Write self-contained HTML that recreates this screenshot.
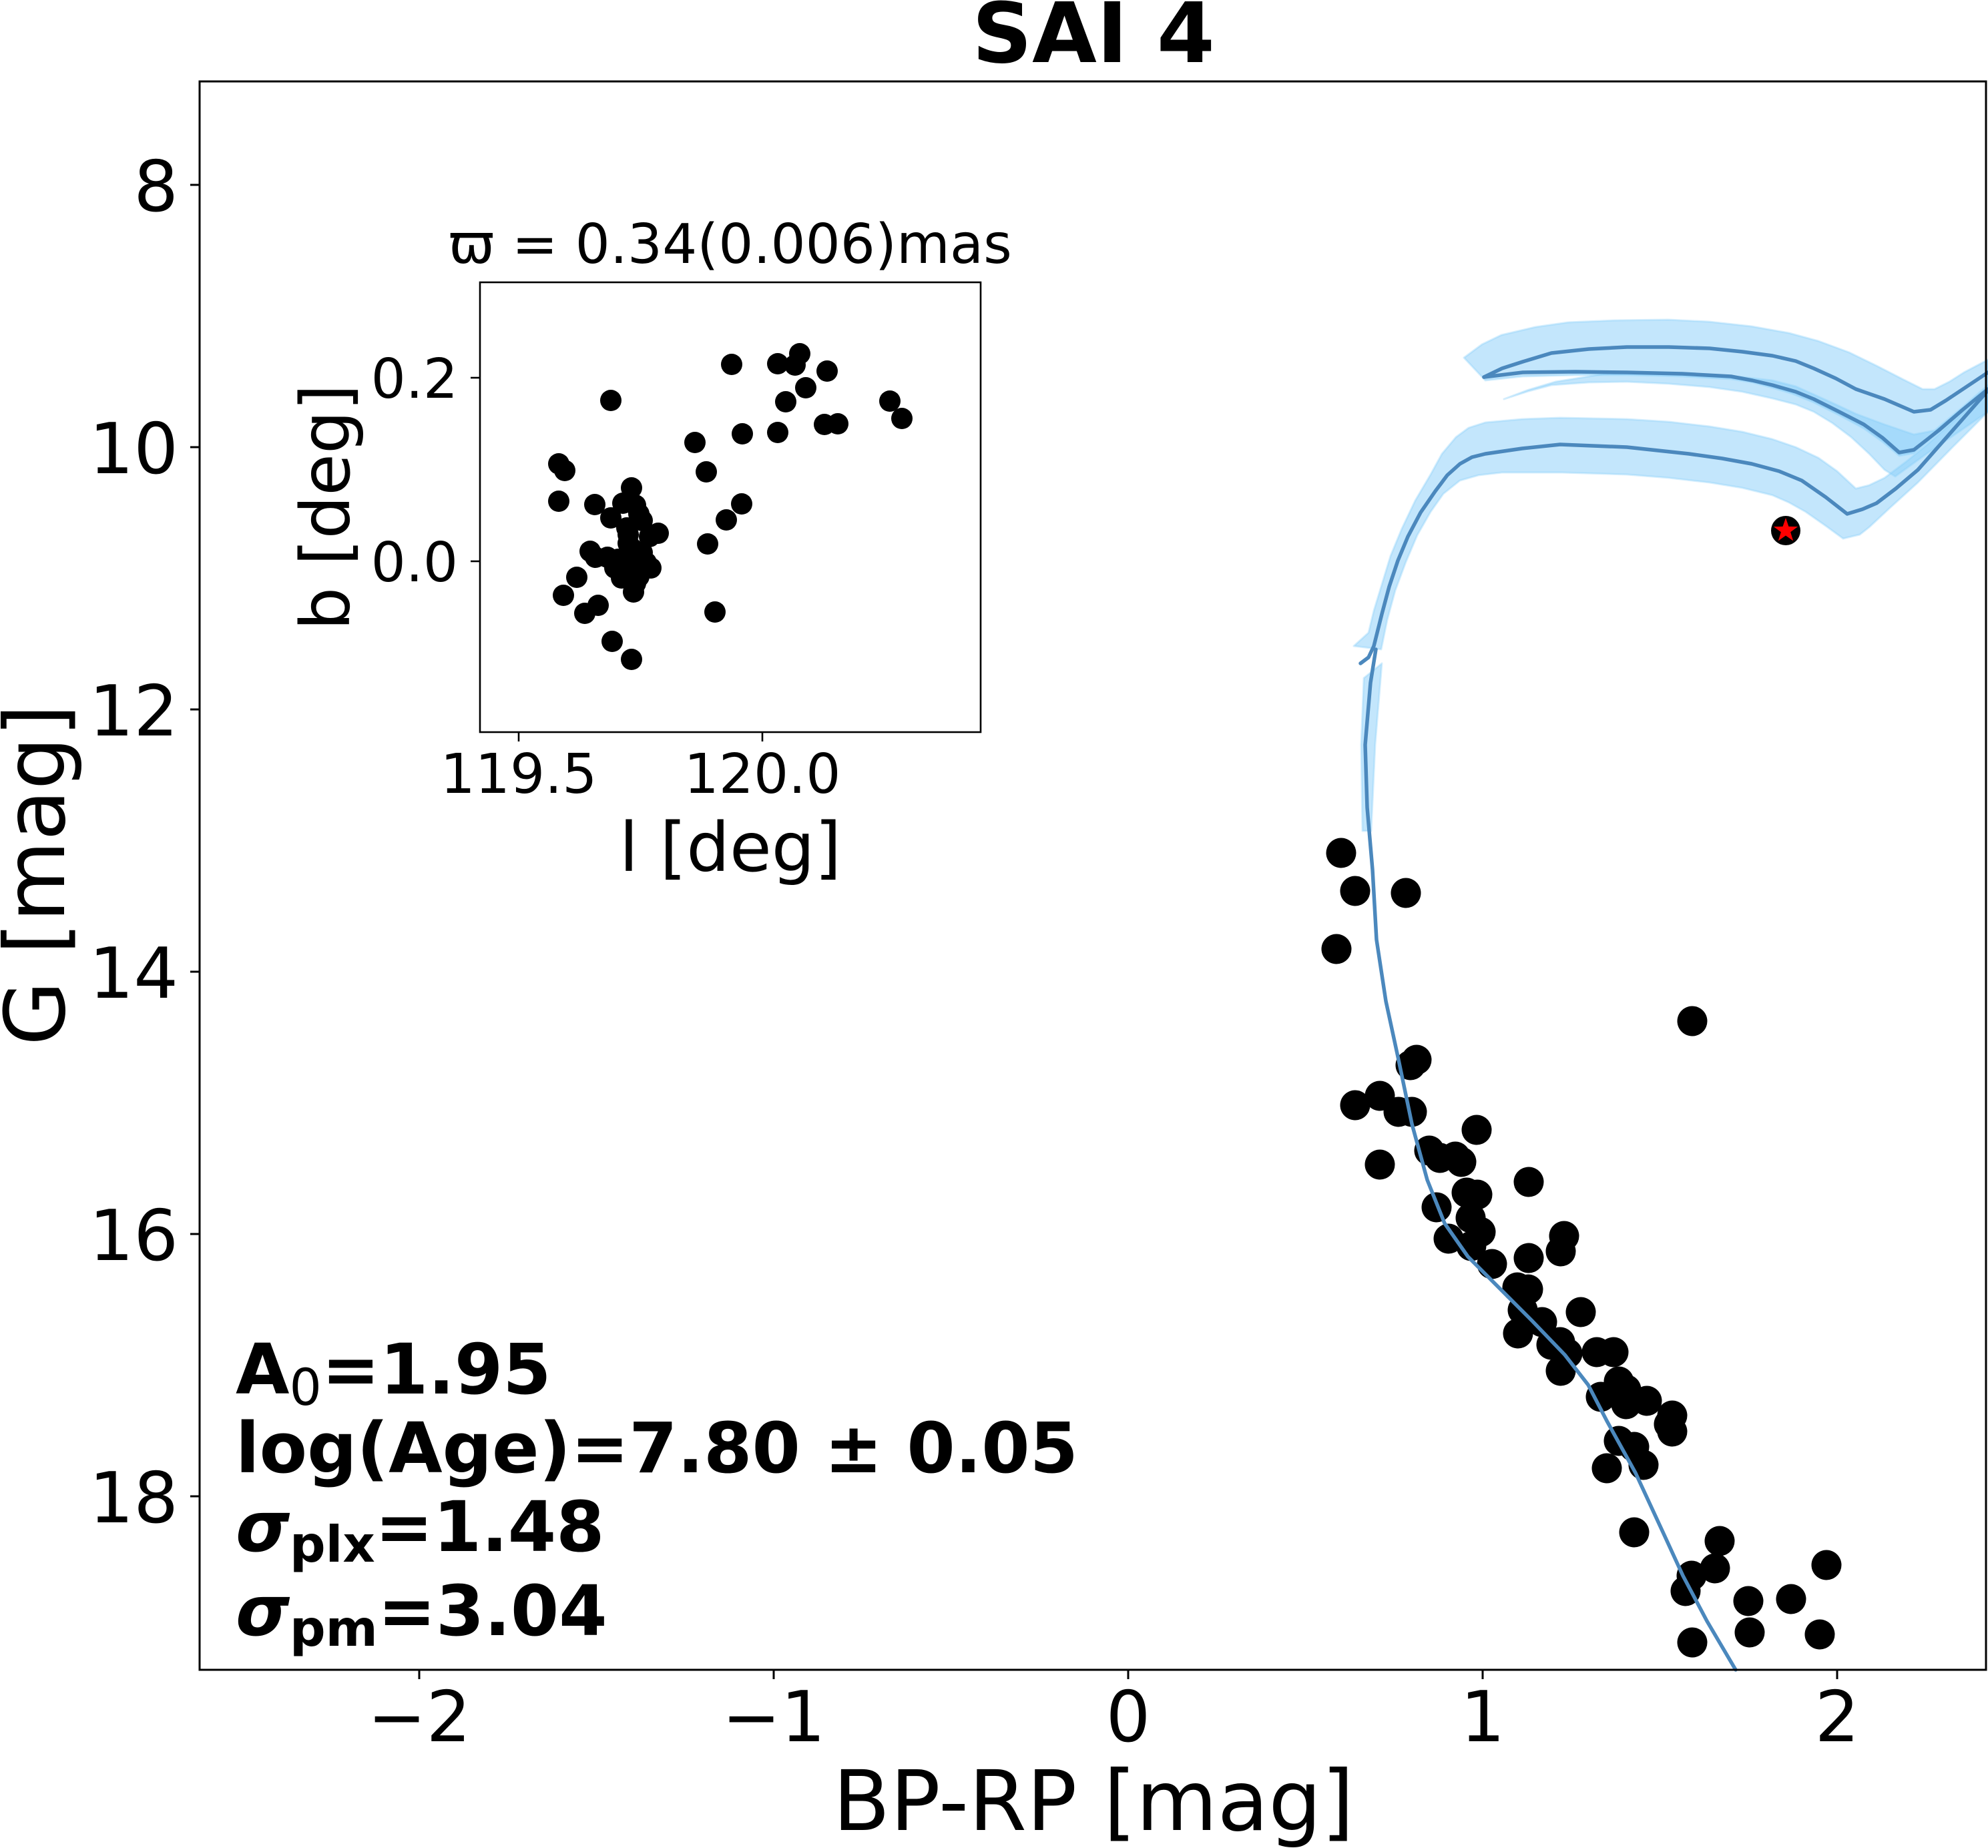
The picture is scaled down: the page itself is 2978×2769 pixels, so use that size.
<!DOCTYPE html>
<html>
<head>
<meta charset="utf-8">
<style>
html,body{margin:0;padding:0;background:#fff;}
svg{display:block;}
text{font-family:"DejaVu Sans","Liberation Sans",sans-serif;fill:#000;}
</style>
</head>
<body>
<svg width="2978" height="2769" viewBox="0 0 2978 2769" xmlns="http://www.w3.org/2000/svg">
<rect x="0" y="0" width="2978" height="2769" fill="#fff"/>

<!-- Title -->
<text x="1638" y="93" font-size="125" font-weight="bold" text-anchor="middle">SAI 4</text>

<!-- bands -->
<g fill="#87cefa" fill-opacity="0.5" stroke="#87cefa" stroke-opacity="0.35" stroke-width="3" stroke-linejoin="round">
  <!-- band A -->
  <polygon points="2193,536 2220,516 2249,502 2300,490 2349,483 2420,480 2499,479 2560,482 2624,489 2680,499 2724,511 2770,528 2811,548 2850,568 2880,583 2898,583 2920,572 2942,558 2978,539 2978,586 2940,617 2904,648 2867,679 2845,683 2820,662 2792,642 2755,622 2717,603 2685,590 2655,581 2625,573 2593,568 2520,564 2437,562 2360,562 2281,564 2225,570"/>
  <!-- band B -->
  <polygon points="2253,598 2290,584 2330,572 2405,560 2490,560 2561,562 2610,565 2655,570 2690,579 2717,591 2750,606 2780,620 2823,636 2867,651 2898,645 2940,610 2978,577 2978,617 2930,650 2886,680 2839,714 2823,704 2800,680 2773,655 2745,634 2717,617 2690,606 2655,597 2610,587 2561,580 2500,575 2437,572 2380,573 2324,577 2290,586"/>
  <!-- band around lower isochrone -->
  <polygon points="2028,968 2050,948 2058,915 2069,879 2083,833 2100,792 2120,750 2143,711 2160,680 2181,655 2200,641 2225,633 2280,628 2337,626 2437,628 2500,632 2561,639 2610,647 2655,658 2690,670 2724,686 2752,706 2780,732 2800,727 2823,716 2855,692 2886,667 2930,628 2978,586 2978,617 2925,670 2873,723 2830,762 2800,790 2786,801 2761,807 2735,788 2705,767 2680,753 2655,742 2610,731 2561,723 2500,716 2437,711 2340,708 2250,708 2215,712 2187,720 2162,740 2143,767 2123,802 2106,842 2090,885 2078,929 2069,973"/>
  <!-- thin band along MS -->
  <polygon points="2043,1016 2070,994 2060,1116 2054,1245 2041,1245 2039,1116"/>
</g>

<!-- main scatter points -->
<g fill="#000">
<circle cx="2009" cy="1278" r="22.5"/><circle cx="2030" cy="1335" r="22.5"/><circle cx="2106" cy="1338" r="22.5"/><circle cx="2002" cy="1422" r="22.5"/>
<circle cx="2535" cy="1530" r="22.5"/><circle cx="2122" cy="1588" r="22.5"/><circle cx="2113" cy="1596" r="22.5"/><circle cx="2067" cy="1642" r="22.5"/>
<circle cx="2030" cy="1656" r="22.5"/><circle cx="2095" cy="1666" r="22.5"/><circle cx="2115" cy="1666" r="22.5"/><circle cx="2212" cy="1693" r="22.5"/>
<circle cx="2141" cy="1724" r="22.5"/><circle cx="2157" cy="1735" r="22.5"/><circle cx="2180" cy="1733" r="22.5"/><circle cx="2189" cy="1741" r="22.5"/>
<circle cx="2067" cy="1745" r="22.5"/><circle cx="2290" cy="1771" r="22.5"/><circle cx="2197" cy="1787" r="22.5"/><circle cx="2213" cy="1790" r="22.5"/>
<circle cx="2152" cy="1809" r="22.5"/><circle cx="2203" cy="1825" r="22.5"/><circle cx="2218" cy="1846" r="22.5"/><circle cx="2170" cy="1856" r="22.5"/>
<circle cx="2204" cy="1867" r="22.5"/><circle cx="2235" cy="1894" r="22.5"/><circle cx="2290" cy="1885" r="22.5"/><circle cx="2343" cy="1852" r="22.5"/>
<circle cx="2338" cy="1875" r="22.5"/><circle cx="2273" cy="1929" r="22.5"/><circle cx="2289" cy="1932" r="22.5"/><circle cx="2281" cy="1963" r="22.5"/>
<circle cx="2310" cy="1981" r="22.5"/><circle cx="2274" cy="1998" r="22.5"/><circle cx="2324" cy="2015" r="22.5"/><circle cx="2337" cy="2011" r="22.5"/>
<circle cx="2348" cy="2028" r="22.5"/><circle cx="2338" cy="2054" r="22.5"/><circle cx="2368" cy="1966" r="22.5"/><circle cx="2392" cy="2026" r="22.5"/>
<circle cx="2417" cy="2026" r="22.5"/><circle cx="2425" cy="2070" r="22.5"/><circle cx="2436" cy="2082" r="22.5"/><circle cx="2398" cy="2093" r="22.5"/>
<circle cx="2467" cy="2099" r="22.5"/><circle cx="2436" cy="2104" r="22.5"/><circle cx="2505" cy="2121" r="22.5"/><circle cx="2500" cy="2134" r="22.5"/>
<circle cx="2505" cy="2145" r="22.5"/><circle cx="2425" cy="2159" r="22.5"/><circle cx="2448" cy="2168" r="22.5"/><circle cx="2462" cy="2195" r="22.5"/>
<circle cx="2407" cy="2200" r="22.5"/><circle cx="2448" cy="2296" r="22.5"/><circle cx="2576" cy="2309" r="22.5"/><circle cx="2569" cy="2350" r="22.5"/>
<circle cx="2534" cy="2361" r="22.5"/><circle cx="2525" cy="2384" r="22.5"/><circle cx="2619" cy="2399" r="22.5"/><circle cx="2683" cy="2396" r="22.5"/>
<circle cx="2736" cy="2345" r="22.5"/><circle cx="2621" cy="2446" r="22.5"/><circle cx="2726" cy="2449" r="22.5"/><circle cx="2535" cy="2461" r="22.5"/>
</g>

<!-- isochrone lines -->
<g fill="none" stroke="#4b88bd" stroke-width="5.5" stroke-linejoin="round" stroke-linecap="round">
  <polyline points="2600,2502 2557,2429 2521,2361 2493,2300 2450,2207 2407,2129 2379,2075 2344,2030 2294,1978 2241,1925 2199,1883 2164,1833 2138,1768 2115,1684 2095,1588 2076,1500 2062,1408 2056,1303 2048,1210 2045,1116 2053,1023 2061,973"/>
  <polyline points="2038,994 2050,985 2058,968 2070,920 2081,879 2094,840 2109,804 2128,768 2150,736 2168,712 2187,695 2205,685 2225,680 2280,672 2337,666 2437,670 2530,680 2580,687 2624,695 2665,706 2699,720 2735,745 2767,770 2790,763 2811,754 2840,732 2873,704 2925,645 2978,585"/>
  <polyline points="2223,565 2250,552 2281,542 2324,529 2380,523 2437,520 2500,520 2561,522 2610,527 2655,533 2690,541 2717,552 2750,567 2780,583 2823,598 2867,617 2892,614 2915,600 2936,586 2978,558"/>
  <polyline points="2223,565 2281,558 2360,557 2437,558 2520,560 2593,564 2625,570 2655,577 2690,587 2717,598 2755,617 2792,636 2820,656 2845,678 2867,674 2885,660 2904,645 2940,614 2978,583"/>
</g>

<!-- star marker -->
<circle cx="2675" cy="795" r="22" fill="#000"/>
<polygon points="2675,776 2679.4,788.9 2693.1,789.1 2682.1,797.3 2686.2,810.4 2675,802.5 2663.8,810.4 2667.9,797.3 2656.9,789.1 2670.6,788.9" fill="#ff0000"/>

<!-- main frame -->
<rect x="299" y="122" width="2676" height="2380" fill="none" stroke="#000" stroke-width="3"/>

<!-- ticks -->
<g stroke="#000" stroke-width="3">
  <line x1="628" y1="2502" x2="628" y2="2516"/>
  <line x1="1159" y1="2502" x2="1159" y2="2516"/>
  <line x1="1690" y1="2502" x2="1690" y2="2516"/>
  <line x1="2221" y1="2502" x2="2221" y2="2516"/>
  <line x1="2752" y1="2502" x2="2752" y2="2516"/>
  <line x1="285" y1="277" x2="299" y2="277"/>
  <line x1="285" y1="670" x2="299" y2="670"/>
  <line x1="285" y1="1063" x2="299" y2="1063"/>
  <line x1="285" y1="1456" x2="299" y2="1456"/>
  <line x1="285" y1="1849" x2="299" y2="1849"/>
  <line x1="285" y1="2242" x2="299" y2="2242"/>
</g>
<g font-size="105" text-anchor="middle">
  <text x="628" y="2609">−2</text>
  <text x="1159" y="2609">−1</text>
  <text x="1690" y="2609">0</text>
  <text x="2221" y="2609">1</text>
  <text x="2752" y="2609">2</text>
</g>
<g font-size="105" text-anchor="end">
  <text x="267" y="316">8</text>
  <text x="267" y="709">10</text>
  <text x="267" y="1102">12</text>
  <text x="267" y="1495">14</text>
  <text x="267" y="1888">16</text>
  <text x="267" y="2281">18</text>
</g>

<!-- axis labels -->
<text x="1638" y="2742" font-size="125" text-anchor="middle">BP-RP [mag]</text>
<text transform="translate(96,1311) rotate(-90)" font-size="125" text-anchor="middle">G [mag]</text>

<!-- stats text -->
<g font-size="104" font-weight="bold">
  <text x="353" y="2088">A<tspan font-size="76" font-weight="normal" dy="17">0</tspan><tspan dy="-17">=1.95</tspan></text>
  <text x="353" y="2206">log(Age)=7.80 ± 0.05</text>
  <text x="353" y="2324"><tspan font-style="italic">σ</tspan><tspan font-size="75" dy="16">plx</tspan><tspan dy="-16">=1.48</tspan></text>
  <text x="353" y="2450"><tspan font-style="italic">σ</tspan><tspan font-size="75" dy="16">pm</tspan><tspan dy="-16">=3.04</tspan></text>
</g>

<!-- inset -->
<rect x="719" y="423" width="750" height="674" fill="#fff" stroke="none"/>
<g fill="#000">
<circle cx="915" cy="600" r="16"/><circle cx="1096" cy="546" r="16"/><circle cx="1165" cy="545" r="16"/><circle cx="1198" cy="530" r="16"/>
<circle cx="1191" cy="547" r="16"/><circle cx="1239" cy="556" r="16"/><circle cx="1207" cy="581" r="16"/><circle cx="1177" cy="602" r="16"/>
<circle cx="1333" cy="601" r="16"/><circle cx="1351" cy="627" r="16"/><circle cx="1235" cy="636" r="16"/><circle cx="1255" cy="635" r="16"/>
<circle cx="1165" cy="648" r="16"/><circle cx="1112" cy="650" r="16"/><circle cx="1041" cy="663" r="16"/><circle cx="837" cy="695" r="16"/>
<circle cx="846" cy="705" r="16"/><circle cx="1058" cy="707" r="16"/><circle cx="946" cy="731" r="16"/><circle cx="837" cy="751" r="16"/>
<circle cx="891" cy="756" r="16"/><circle cx="933" cy="754" r="16"/><circle cx="952" cy="757" r="16"/><circle cx="957" cy="770" r="16"/>
<circle cx="915" cy="776" r="16"/><circle cx="1111" cy="755" r="16"/><circle cx="1088" cy="779" r="16"/><circle cx="986" cy="799" r="16"/>
<circle cx="941" cy="801" r="16"/><circle cx="973" cy="804" r="16"/><circle cx="1060" cy="815" r="16"/><circle cx="941" cy="814" r="16"/>
<circle cx="884" cy="826" r="16"/><circle cx="892" cy="835" r="16"/><circle cx="910" cy="835" r="16"/><circle cx="962" cy="828" r="16"/>
<circle cx="941" cy="843" r="16"/><circle cx="921" cy="851" r="16"/><circle cx="975" cy="851" r="16"/><circle cx="957" cy="864" r="16"/>
<circle cx="931" cy="866" r="16"/><circle cx="864" cy="865" r="16"/><circle cx="844" cy="892" r="16"/><circle cx="949" cy="887" r="16"/>
<circle cx="896" cy="907" r="16"/><circle cx="876" cy="919" r="16"/><circle cx="1071" cy="917" r="16"/><circle cx="917" cy="961" r="16"/>
<circle cx="946" cy="988" r="16"/><circle cx="968" cy="843" r="16"/><circle cx="926" cy="838" r="16"/><circle cx="952" cy="848" r="16"/>
<circle cx="947" cy="822" r="16"/><circle cx="939" cy="791" r="16"/><circle cx="962" cy="780" r="16"/><circle cx="952" cy="874" r="16"/>
</g>
<rect x="719" y="423" width="750" height="674" fill="none" stroke="#000" stroke-width="2.6"/>
<g stroke="#000" stroke-width="2.6">
  <line x1="777" y1="1097" x2="777" y2="1111"/>
  <line x1="1142" y1="1097" x2="1142" y2="1111"/>
  <line x1="705" y1="566" x2="719" y2="566"/>
  <line x1="705" y1="841" x2="719" y2="841"/>
</g>
<g font-size="82" text-anchor="middle">
  <text x="777" y="1188">119.5</text>
  <text x="1142" y="1188">120.0</text>
</g>
<g font-size="82" text-anchor="end">
  <text x="686" y="596">0.2</text>
  <text x="686" y="871">0.0</text>
</g>
<text x="1094" y="1305" font-size="102" text-anchor="middle">l [deg]</text>
<text transform="translate(523,760) rotate(-90)" font-size="102" text-anchor="middle">b [deg]</text>
<text x="1094" y="394" font-size="82" text-anchor="middle">ϖ = 0.34(0.006)mas</text>

</svg>
</body>
</html>
